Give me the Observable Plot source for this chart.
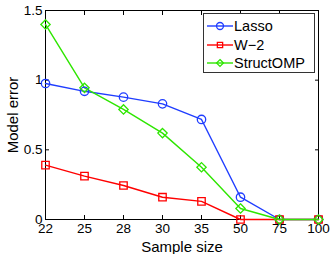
<!DOCTYPE html>
<html><head><meta charset="utf-8">
<script src="https://cdn.jsdelivr.net/npm/d3@7"></script>
<script src="https://cdn.jsdelivr.net/npm/@observablehq/plot@0.6"></script>
<style>
body{margin:0;background:#fff;font-family:"Liberation Sans",Arial,sans-serif;}
#wrap{position:relative;width:332px;height:254px;}
#legend{position:absolute;left:203px;top:13px;width:112px;height:60px;border:1px solid #333;background:#fff;box-sizing:border-box;}
.row{position:absolute;left:0;height:18px;display:flex;align-items:center;font-size:14.5px;color:#000;white-space:nowrap;}
.row svg{margin-left:3px;margin-right:1px;}
</style></head><body>
<div id="wrap"></div>
<script>
const sampleSizes = ["22","25","28","30","35","50","75","100"];
const lasso = [0.976, 0.92, 0.878, 0.83, 0.718, 0.16, 0, 0];
const w2 = [0.39, 0.311, 0.244, 0.16, 0.13, 0, 0, 0];
const structOMP = [1.40, 0.945, 0.79, 0.62, 0.375, 0.079, 0, 0];
const seriesNames = ["Lasso", "W\u22122", "StructOMP"];
const seriesColors = ["#1f3dff", "#ff0000", "#2ee600"];
const seriesSymbols = ["circle", "square", "diamond2"];
const yTicks = [0, 0.5, 1, 1.5];

const allSeries = [lasso, w2, structOMP];
const rows = [];
allSeries.forEach((vals, s) => vals.forEach((v, i) => rows.push({x: sampleSizes[i], y: v, s: seriesNames[s]})));

const chart = Plot.plot({
  width: 332, height: 254,
  marginLeft: 45, marginRight: 14, marginTop: 10, marginBottom: 35,
  style: {fontFamily: '"Liberation Sans", Arial, sans-serif', fontSize: "13.5px", color: "#000", background: "#fff"},
  x: {type: "point", domain: sampleSizes, padding: 0},
  y: {domain: [0, 1.5]},
  color: {domain: seriesNames, range: seriesColors},
  symbol: {domain: seriesNames, range: seriesSymbols},
  marks: [
    Plot.frame({stroke: "#000", strokeWidth: 1}),
    Plot.axisX({tickSize: 0, tickPadding: 4, fontSize: 13.5, label: null}),
    Plot.axisX({tickSize: 0, tickFormat: () => "", fontSize: 15, label: "Sample size", labelAnchor: "center", labelOffset: 32, labelArrow: "none"}),
    Plot.axisX({anchor: "bottom", tickSize: -4, tickFormat: () => "", label: null}),
    Plot.axisX({anchor: "top", tickSize: -4, tickFormat: () => "", label: null}),
    Plot.axisY({ticks: yTicks, tickSize: 0, tickPadding: 3, fontSize: 13.5, tickFormat: d => String(d), label: null}),
    Plot.axisY({ticks: yTicks, tickSize: 0, tickFormat: () => "", fontSize: 15, label: "Model error", labelAnchor: "center", labelOffset: 38, labelArrow: "none"}),
    Plot.axisY({ticks: yTicks, anchor: "left", tickSize: -4, tickFormat: () => "", label: null}),
    Plot.axisY({ticks: yTicks, anchor: "right", tickSize: -4, tickFormat: () => "", label: null}),
    Plot.line(rows, {x: "x", y: "y", z: "s", stroke: "s", strokeWidth: 1.4}),
    Plot.dot(rows, {x: "x", y: "y", stroke: "s", symbol: "s", fill: "none", r: 4.2, strokeWidth: 1.3})
  ]
});
const wrap = document.getElementById("wrap");
wrap.appendChild(chart);

// legend
const leg = document.createElement("div");
leg.id = "legend";
const symPaths = {circle: d3.symbol(d3.symbolCircle, 38)(), square: d3.symbol(d3.symbolSquare, 28)(), diamond2: d3.symbol(d3.symbolDiamond2, 30)()};
seriesNames.forEach((n, i) => {
  const r = document.createElement("div");
  r.className = "row";
  r.style.top = (3 + i * 18.5) + "px";
  r.innerHTML = `<svg width="26" height="12"><line x1="0" x2="26" y1="6" y2="6" stroke="${seriesColors[i]}" stroke-width="1.4"/><path d="${symPaths[seriesSymbols[i]]}" transform="translate(13,6)" fill="none" stroke="${seriesColors[i]}" stroke-width="1.3"/></svg><span>${n}</span>`;
  leg.appendChild(r);
});
wrap.appendChild(leg);
</script>
</body></html>
